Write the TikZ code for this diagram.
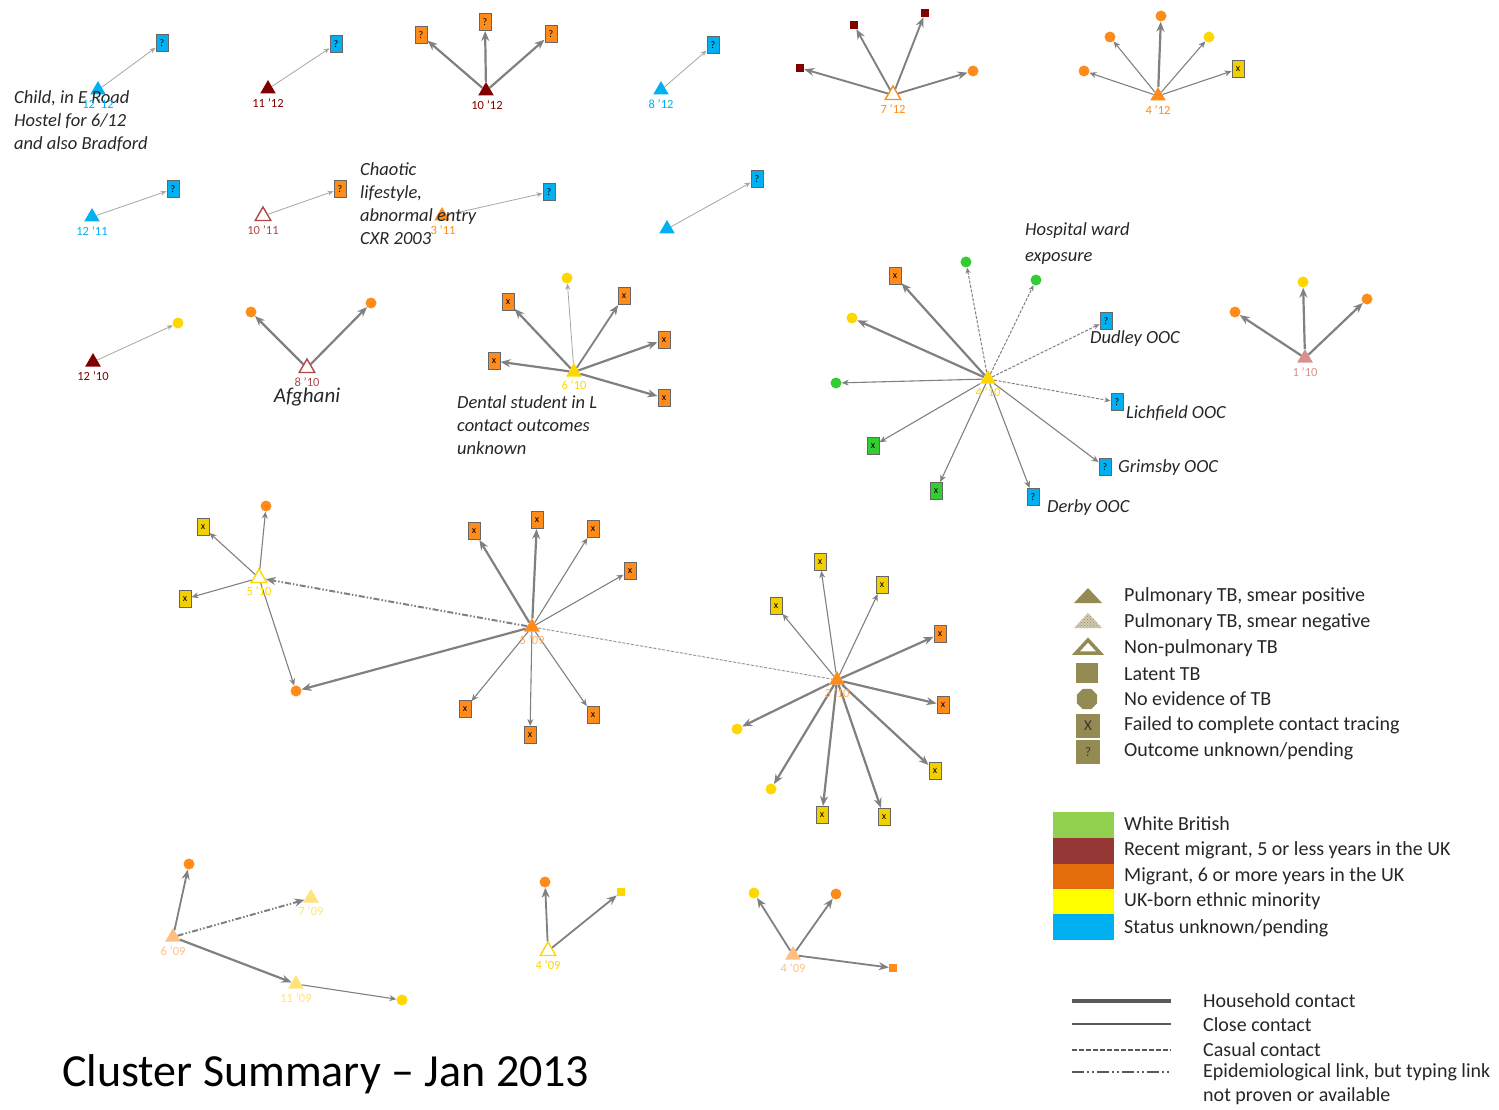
\documentclass[tikz,border=0pt]{standalone}
\usepackage{fontspec}
\setmainfont{Carlito}
\usetikzlibrary{shapes.geometric,arrows.meta,patterns}
\definecolor{cblue}{HTML}{00B0F0}
\definecolor{cdred}{HTML}{800000}
\definecolor{cmred}{HTML}{B04848}
\definecolor{corange}{HTML}{FF8C1A}
\definecolor{cyellow}{HTML}{FFD700}
\definecolor{cbyellow}{HTML}{F2D000}
\definecolor{cgreen}{HTML}{33CC33}
\definecolor{clorange}{HTML}{FFBF80}
\definecolor{clyellow}{HTML}{FFE27A}
\definecolor{cpink}{HTML}{D99090}
\definecolor{colive}{HTML}{948A54}
\definecolor{lgreen}{HTML}{92D050}
\definecolor{lred}{HTML}{953735}
\definecolor{lorange}{HTML}{E46C0A}
\definecolor{lyellow}{HTML}{FFFF00}
\definecolor{lblue}{HTML}{00B0F0}
\definecolor{edgec}{HTML}{808080}
\tikzset{
  tri/.style={regular polygon, regular polygon sides=3, minimum size=18, inner sep=0, draw=none},
  otri/.style={regular polygon, regular polygon sides=3, minimum size=18, inner sep=0, fill=white, line width=1.4},
  bx/.style={rectangle, minimum width=12, minimum height=17, inner sep=0, draw=black!60, line width=1, font=\fontsize{10}{10}\selectfont},
  cdot/.style={circle, minimum size=11, inner sep=0, draw=none},
  sq/.style={rectangle, minimum size=8, inner sep=0, draw=none},
  lab/.style={font=\fontsize{12.5}{12.5}\selectfont, inner sep=0},
  note/.style={font=\fontsize{18.5}{23}\selectfont\itshape, align=left, inner sep=0, text=black!85},
  leg/.style={font=\fontsize{20}{24}\selectfont, align=left, inner sep=0, anchor=west, text=black!85},
  lhh/.style={-{Stealth[length=10,width=8]}, draw=edgec, line width=2.2},
  lcl/.style={-{Stealth[length=7,width=6]}, draw=edgec, line width=1.1},
  lth/.style={-{Stealth[length=6,width=5]}, draw=black!35, line width=0.8},
  lcs/.style={-{Stealth[length=6,width=5]}, draw=edgec, line width=1, dash pattern=on 3pt off 1.5pt},
  lep/.style={-{Stealth[length=10,width=8]}, draw=edgec, line width=2, dash pattern=on 6pt off 2pt on 1.5pt off 2pt on 1.5pt off 2pt},
}
\begin{document}
\begin{tikzpicture}[x=1pt,y=-1pt]
\useasboundingbox (0,0) rectangle (1499,1110);

% ---------- Row 1 ----------
\node[tri, fill=cblue] (t1212) at (98,90) {};
\node[bx, fill=cblue] (b1212) at (162,43) {?};
\draw[lth] (t1212) -- (b1212);
\node[note, anchor=west] (n1212) at (14,121) {Child, in E Road\\Hostel for 6/12\\and also Bradford};
\node[lab, text=cblue] (l1212) at (98,104) {12 '12};

\node[tri, fill=cdred] (t1112) at (268,89) {};
\node[lab, text=cdred] (l1112) at (268,103) {11 '12};
\node[bx, fill=cblue] (b1112) at (336,44) {?};
\draw[lth] (t1112) -- (b1112);

\node[tri, fill=cdred] (t1012) at (486,91) {};
\node[lab, text=cdred] (l1012) at (487,105) {10 '12};
\node[bx, fill=corange] (b1012a) at (421,35) {?};
\node[bx, fill=corange] (b1012b) at (485,22) {?};
\node[bx, fill=corange] (b1012c) at (551,34) {?};
\draw[lhh] (t1012) -- (b1012a);
\draw[lhh] (t1012) -- (b1012b);
\draw[lhh] (t1012) -- (b1012c);

\node[tri, fill=cblue] (t812) at (661,90) {};
\node[lab, text=cblue] (l812) at (661,104) {8 '12};
\node[bx, fill=cblue] (b812) at (713,45) {?};
\draw[lth] (t812) -- (b812);

\node[otri, draw=corange] (t712) at (893,95) {};
\node[lab, text=corange] (l712) at (893,109) {7 '12};
\node[sq, fill=cdred] (s712a) at (800,68) {};
\node[sq, fill=cdred] (s712b) at (854,25) {};
\node[sq, fill=cdred] (s712c) at (925,13) {};
\node[cdot, fill=corange] (d712) at (973,71) {};
\draw[lhh, line width=1.9] (t712) -- (s712a);
\draw[lhh, line width=1.9] (t712) -- (s712b);
\draw[lhh, line width=1.9] (t712) -- (s712c);
\draw[lhh, line width=1.9] (t712) -- (d712);

\node[tri, fill=corange] (t412) at (1158,96) {};
\node[lab, text=corange] (l412) at (1158,110) {4 '12};
\node[cdot, fill=corange] (d412a) at (1084,71) {};
\node[cdot, fill=corange] (d412b) at (1110,37) {};
\node[cdot, fill=corange] (d412c) at (1161,16) {};
\node[cdot, fill=cyellow] (d412d) at (1209,37) {};
\node[bx, fill=cbyellow] (b412) at (1238,69) {x};
\draw[lcl] (t412) -- (d412a);
\draw[lcl] (t412) -- (d412b);
\draw[lhh] (t412) -- (d412c);
\draw[lcl] (t412) -- (d412d);
\draw[lcl] (t412) -- (b412);

% ---------- Row 2 ----------
\node[tri, fill=cblue] (t1211) at (92,217) {};
\node[lab, text=cblue] (l1211) at (92,231) {12 '11};
\node[bx, fill=cblue] (b1211) at (173,189) {?};
\draw[lth] (t1211) -- (b1211);

\node[otri, draw=cmred] (t1011) at (263,216) {};
\node[lab, text=cmred] (l1011) at (263,230) {10 '11};
\node[bx, fill=corange] (b1011) at (340,189) {?};
\draw[lth] (t1011) -- (b1011);

\node[tri, fill=corange] (t311) at (442,216) {};
\node[bx, fill=cblue] (b311) at (549,192) {?};
\draw[lth] (t311) -- (b311);
\node[lab, text=corange] (l311) at (443,230) {3 '11};
\node[note, anchor=west] (n311) at (360,204) {Chaotic\\lifestyle,\\abnormal entry\\CXR 2003};

\node[tri, fill=cblue] (tnl) at (667,229) {};
\node[bx, fill=cblue] (bnl) at (757,179) {?};
\draw[lth] (tnl) -- (bnl);

% ---------- Row 3 ----------
\node[tri, fill=cdred] (t1210) at (93,362) {};
\node[lab, text=cdred] (l1210) at (93,376) {12 '10};
\node[cdot, fill=cyellow] (d1210) at (178,323) {};
\draw[lth] (t1210) -- (d1210);

\node[otri, draw=cmred] (t810) at (307,368) {};
\node[lab, text=cmred] (l810) at (307,382) {8 '10};
\node[font=\fontsize{21}{21}\selectfont\itshape, inner sep=0, text=black!85] (n810) at (307,397) {Afghani};
\node[cdot, fill=corange] (d810a) at (251,312) {};
\node[cdot, fill=corange] (d810b) at (371,303) {};
\draw[lhh] (t810) -- (d810a);
\draw[lhh] (t810) -- (d810b);

\node[tri, fill=cyellow] (t610) at (574,372) {};
\node[cdot, fill=cyellow] (d610) at (567,278) {};
\node[bx, fill=corange] (b610a) at (508,302) {x};
\node[bx, fill=corange] (b610b) at (624,296) {x};
\node[bx, fill=corange] (b610c) at (664,340) {x};
\node[bx, fill=corange] (b610d) at (494,361) {x};
\node[bx, fill=corange] (b610e) at (664,398) {x};
\draw[lth] (t610) -- (d610);
\draw[lhh] (t610) -- (b610a);
\draw[lhh, line width=1.8] (t610) -- (b610b);
\draw[lhh] (t610) -- (b610c);
\draw[lhh] (t610) -- (b610d);
\draw[lhh] (t610) -- (b610e);
\node[lab, text=cyellow] (l610) at (574,385) {6 '10};
\node[note, anchor=west] (n610) at (457,425) {Dental student in L\\contact outcomes\\unknown};

\node[tri, fill=cyellow] (t410) at (988,379) {};
\node[cdot, fill=cgreen] (d410a) at (966,262) {};
\node[cdot, fill=cgreen] (d410b) at (1036,280) {};
\node[bx, fill=corange] (b410a) at (895,276) {x};
\node[cdot, fill=cyellow] (d410c) at (852,318) {};
\node[bx, fill=cblue] (b410b) at (1106,321) {?};
\node[cdot, fill=cgreen] (d410d) at (836,383) {};
\node[bx, fill=cblue] (b410c) at (1117,402) {?};
\node[bx, fill=cgreen] (b410d) at (873,446) {x};
\node[bx, fill=cblue] (b410e) at (1105,467) {?};
\node[bx, fill=cgreen] (b410f) at (936,491) {x};
\node[bx, fill=cblue] (b410g) at (1033,497) {?};
\draw[lcs] (t410) -- (d410a);
\draw[lcs] (t410) -- (d410b);
\draw[lhh] (t410) -- (b410a);
\draw[lhh] (t410) -- (d410c);
\draw[lcs] (t410) -- (b410b);
\draw[lcl] (t410) -- (d410d);
\draw[lcs] (t410) -- (b410c);
\draw[lcl] (t410) -- (b410d);
\draw[lcl] (t410) -- (b410e);
\draw[lcl] (t410) -- (b410f);
\draw[lcl] (t410) -- (b410g);
\node[lab, text=cyellow] (l410) at (988,392) {4 '10};
\node[note, anchor=west, font=\fontsize{18.5}{26}\selectfont\itshape] (n410) at (1025,244) {Hospital ward\\exposure};
\node[note, anchor=west] (nd) at (1090,339) {Dudley OOC};
\node[note, anchor=west] (nl) at (1126,413) {Lichfield OOC};
\node[note, anchor=west] (ng) at (1118,468) {Grimsby OOC};
\node[note, anchor=west] (ndb) at (1047,508) {Derby OOC};

\node[tri, fill=cpink] (t110) at (1305,358) {};
\node[cdot, fill=corange] (d110a) at (1235,312) {};
\node[cdot, fill=cyellow] (d110b) at (1303,282) {};
\node[cdot, fill=corange] (d110c) at (1367,299) {};
\draw[lhh] (t110) -- (d110a);
\draw[lhh] (t110) -- (d110b);
\draw[lhh] (t110) -- (d110c);
\node[lab, text=cpink] (l110) at (1305,372) {1 '10};

% ---------- Middle cluster ----------
\node[otri, draw=cyellow] (t510) at (259,578) {};
\node[cdot, fill=corange] (d510a) at (266,506) {};
\node[bx, fill=cbyellow] (b510a) at (203,527) {x};
\node[bx, fill=cbyellow] (b510b) at (185,599) {x};
\node[cdot, fill=corange] (d510b) at (296,691) {};
\draw[lcl] (t510) -- (d510a);
\draw[lcl] (t510) -- (b510a);
\draw[lcl] (t510) -- (b510b);
\draw[lcl] (t510) -- (d510b);

\node[tri, fill=corange] (t509) at (532,627) {};
\node[bx, fill=corange] (b509a) at (474,531) {x};
\node[bx, fill=corange] (b509b) at (537,520) {x};
\node[bx, fill=corange] (b509c) at (593,529) {x};
\node[bx, fill=corange] (b509d) at (630,571) {x};
\node[bx, fill=corange] (b509e) at (465,709) {x};
\node[bx, fill=corange] (b509f) at (530,735) {x};
\node[bx, fill=corange] (b509g) at (593,715) {x};
\draw[lep] (t509) -- (t510);
\draw[lhh] (t509) -- (d510b);
\draw[lhh] (t509) -- (b509a);
\draw[lhh] (t509) -- (b509b);
\draw[lcl] (t509) -- (b509c);
\draw[lcl] (t509) -- (b509d);
\draw[lcl] (t509) -- (b509e);
\draw[lcl] (t509) -- (b509f);
\draw[lcl] (t509) -- (b509g);

\node[tri, fill=corange] (t310) at (837,680) {};
\draw[draw=black!40, line width=1, dash pattern=on 3pt off 1.5pt] (t509) -- (t310);
\node[bx, fill=cbyellow] (b310a) at (820,562) {x};
\node[bx, fill=cbyellow] (b310b) at (882,585) {x};
\node[bx, fill=cbyellow] (b310c) at (776,606) {x};
\node[bx, fill=corange] (b310d) at (940,634) {x};
\node[bx, fill=corange] (b310e) at (943,705) {x};
\node[bx, fill=cbyellow] (b310f) at (935,771) {x};
\node[bx, fill=cbyellow] (b310g) at (884,817) {x};
\node[bx, fill=cbyellow] (b310h) at (822,815) {x};
\node[cdot, fill=cyellow] (d310a) at (737,729) {};
\node[cdot, fill=cyellow] (d310b) at (771,789) {};
\draw[lcl] (t310) -- (b310a);
\draw[lcl] (t310) -- (b310b);
\draw[lcl] (t310) -- (b310c);
\draw[lhh] (t310) -- (b310d);
\draw[lhh] (t310) -- (b310e);
\draw[lhh] (t310) -- (b310f);
\draw[lhh] (t310) -- (b310g);
\draw[lhh] (t310) -- (b310h);
\draw[lhh] (t310) -- (d310a);
\draw[lhh] (t310) -- (d310b);
\node[lab, text=cyellow] (l510) at (259,591) {5 '10};
\node[lab, text=corange!70] (l509) at (532,640) {5 '09};
\node[lab, text=corange!70] (l310) at (837,693) {3 '10};

% ---------- Bottom row ----------
\node[tri, fill=clorange] (t609) at (173,937) {};
\node[cdot, fill=corange] (d609) at (189,864) {};
\node[tri, fill=clyellow] (t709) at (311,898) {};
\node[tri, fill=clyellow] (t1109) at (296,984) {};
\node[cdot, fill=cyellow] (d1109) at (402,1000) {};
\draw[lhh, line width=1.8] (t609) -- (d609);
\draw[lep] (t609) -- (t709);
\draw[lhh] (t609) -- (t1109);
\draw[lcl] (t1109) -- (d1109);
\node[lab, text=clorange] (l609) at (173,951) {6 '09};
\node[lab, text=clyellow] (l709) at (311,911) {7 '09};
\node[lab, text=clyellow] (l1109) at (296,998) {11 '09};

\node[otri, draw=cyellow] (t409a) at (548,951) {};
\node[cdot, fill=corange] (d409a) at (545,882) {};
\node[sq, fill=cyellow] (s409a) at (621,892) {};
\draw[lhh, line width=1.8] (t409a) -- (d409a);
\draw[lhh, line width=1.8] (t409a) -- (s409a);
\node[lab, text=cyellow] (l409a) at (548,965) {4 '09};

\node[tri, fill=clorange] (t409b) at (793,955) {};
\node[cdot, fill=cyellow] (d409b) at (754,893) {};
\node[cdot, fill=corange] (d409c) at (836,894) {};
\node[sq, fill=corange] (s409b) at (893,968) {};
\draw[lhh, line width=1.8] (t409b) -- (d409b);
\draw[lhh, line width=1.8] (t409b) -- (d409c);
\draw[lhh, line width=1.8] (t409b) -- (s409b);
\node[lab, text=clorange] (l409b) at (793,968) {4 '09};

% ---------- Title ----------
\node[anchor=west, font=\fontsize{46}{46}\selectfont, inner sep=0] (title) at (62,1074) {Cluster Summary -- Jan 2013};

% ---------- Legend: shapes ----------
\fill[colive] (1074,603) -- (1102,603) -- (1088,588) -- cycle;
\fill[colive!45] (1074,628) -- (1102,628) -- (1088,613) -- cycle;
\fill[pattern=crosshatch dots, pattern color=colive] (1074,628) -- (1102,628) -- (1088,613) -- cycle;
\draw[colive, line width=3.5, line join=miter] (1076,653) -- (1100,653) -- (1088,640) -- cycle;
\fill[colive] (1076,663) rectangle (1098,683);
\node[regular polygon, regular polygon sides=8, minimum size=22, inner sep=0, fill=colive] (lg5) at (1087,699) {};
\node[rectangle, minimum width=24, minimum height=24, inner sep=0, fill=colive, font=\fontsize{15}{15}\selectfont, text=black!80] (lg6) at (1088,726) {X};
\node[rectangle, minimum width=24, minimum height=24, inner sep=0, fill=colive, font=\fontsize{13}{13}\selectfont, text=black!80] (lg7) at (1088,752) {?};
\node[leg] (lt1) at (1124,596) {Pulmonary TB, smear positive};
\node[leg] (lt2) at (1124,622) {Pulmonary TB, smear negative};
\node[leg] (lt3) at (1124,648) {Non-pulmonary TB};
\node[leg] (lt4) at (1124,674) {Latent TB};
\node[leg] (lt5) at (1124,699) {No evidence of TB};
\node[leg] (lt6) at (1124,725) {Failed to complete contact tracing};
\node[leg] (lt7) at (1124,751) {Outcome unknown/pending};

% ---------- Legend: colours ----------
\fill[lgreen] (1053,812) rectangle (1114,838);
\fill[lred] (1053,838) rectangle (1114,864);
\fill[lorange] (1053,864) rectangle (1114,889);
\fill[lyellow] (1053,889) rectangle (1114,914);
\fill[lblue] (1053,914) rectangle (1114,940);
\node[leg] (lc1) at (1124,824) {White British};
\node[leg] (lc2) at (1124,850) {Recent migrant, 5 or less years in the UK};
\node[leg] (lc3) at (1124,876) {Migrant, 6 or more years in the UK};
\node[leg] (lc4) at (1124,901) {UK-born ethnic minority};
\node[leg] (lc5) at (1124,928) {Status unknown/pending};

% ---------- Legend: lines ----------
\draw[black!65, line width=4] (1072,1001) -- (1171,1001);
\draw[black!65, line width=2.5] (1072,1024) -- (1171,1024);
\draw[black!65, line width=2, dash pattern=on 5pt off 2pt] (1072,1050) -- (1171,1050);
\draw[black!65, line width=2.5, dash pattern=on 12pt off 3pt on 2pt off 3pt on 2pt off 3pt] (1072,1072) -- (1171,1072);
\node[leg] (ll1) at (1203,1001) {Household contact};
\node[leg] (ll2) at (1203,1025) {Close contact};
\node[leg] (ll3) at (1203,1050) {Casual contact};
\node[leg, anchor=north west] (ll4) at (1203,1063) {Epidemiological link, but typing link\\not proven or available};
\end{tikzpicture}
\end{document}
